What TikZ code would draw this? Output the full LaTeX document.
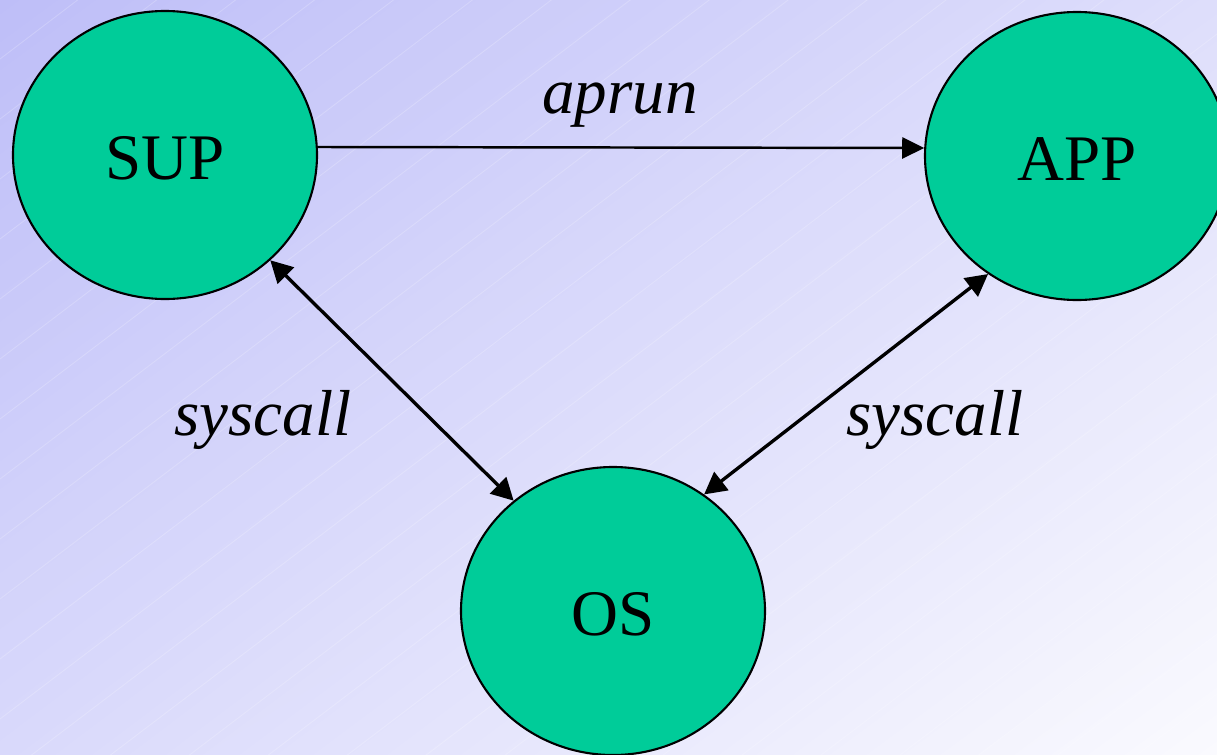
\documentclass[tikz,border=0pt]{standalone}
\usepackage{fontspec}
\setmainfont{Liberation Serif}
\usetikzlibrary{shapes.geometric,arrows.meta,shadings}

\definecolor{bgTL}{RGB}{190,190,248}
\definecolor{bgTR}{RGB}{222,222,251}
\definecolor{bgBL}{RGB}{217,217,251}
\definecolor{bgBR}{RGB}{250,250,254}
\definecolor{procfill}{RGB}{0,204,153}

\newlength{\unitpx}
\setlength{\unitpx}{0.02cm}

\tikzset{
  proc/.style={ellipse, draw=black, line width=1.2pt, fill=procfill,
    minimum width=304\unitpx, minimum height=288\unitpx, inner sep=0pt,
    font=\fontsize{37}{40}\selectfont, text height=28pt, text depth=0pt},
  lbl/.style={font=\fontsize{37}{40}\selectfont\itshape, inner sep=0pt, anchor=base},
  flow/.style={line width=1.4pt, -{Triangle[length=12.5pt,width=12pt]}},
  both/.style={line width=1.9pt, {Triangle[length=12.5pt,width=13pt]}-{Triangle[length=12.5pt,width=13pt]}},
  stripe/.style={white, opacity=0.2, line width=0.5pt}
}

\begin{document}
\begin{tikzpicture}[x=0.02cm, y=-0.02cm]
  \useasboundingbox (0,0) rectangle (1217,754);
  \begin{scope}
    \clip (0,0) rectangle (1217,754);
    % diagonal background wash
    \shade[upper left=bgTL, upper right=bgTR, lower left=bgBL, lower right=bgBR]
      (0,0) rectangle (1217,754);
    % faint diagonal banding
    \foreach \c in {59,119,...,1799}
      \draw[stripe] (0,\c) -- (1217,\c-925);
  \end{scope}

  % processes
  \node[proc] (sup) at (165,155) {SUP};
  \node[proc] (app) at (1077,156) {APP};
  \node[proc] (os)  at (613,611) {OS};

  % connectors
  \draw[flow] (sup.3) -- (app.177);
  \draw[both] (sup.315) -- (os.132);
  \draw[both] (app.233) -- (os.52);

  % connector labels
  \node[lbl] (lrun) at (620,113) {aprun};
  \node[lbl] (lsys1) at (263,435) {syscall};
  \node[lbl] (lsys2) at (935,435) {syscall};
\end{tikzpicture}
\end{document}
